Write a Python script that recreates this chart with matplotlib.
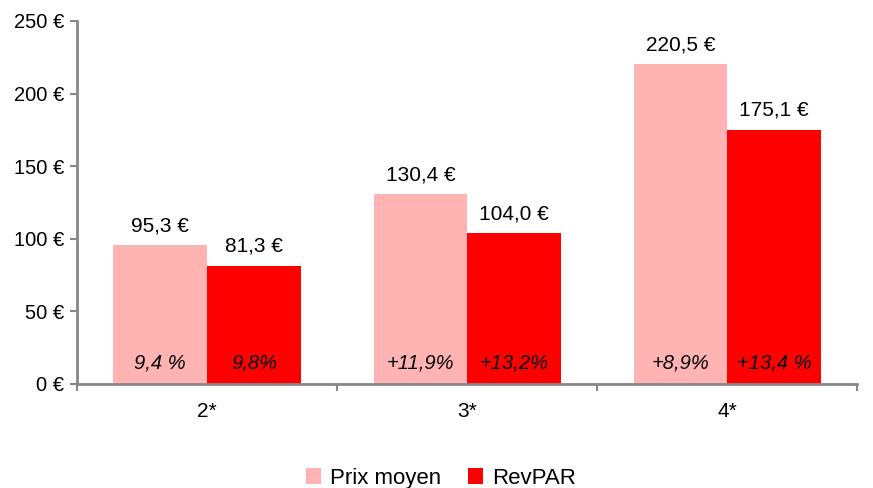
import matplotlib
matplotlib.use("Agg")
import matplotlib.pyplot as plt
import numpy as np

categories = ["2*", "3*", "4*"]
prix_moyen = [95.3, 130.4, 220.5]
revpar = [81.3, 104.0, 175.1]
prix_labels = ["95,3 €", "130,4 €", "220,5 €"]
revpar_labels = ["81,3 €", "104,0 €", "175,1 €"]
prix_pct = ["9,4 %", "+11,9%", "+8,9%"]
revpar_pct = ["9,8%", "+13,2%", "+13,4 %"]
yticks = [0, 50, 100, 150, 200, 250]
ytick_labels = ["0 €", "50 €", "100 €", "150 €", "200 €", "250 €"]

plt.rcParams['font.family'] = ['Liberation Sans', 'DejaVu Sans']

pink = "#FFB3B3"
red = "#FF0000"
grey = "#888888"

fig = plt.figure(figsize=(8.73, 4.88), dpi=100)
ax = fig.add_axes([0.0882, 0.214, 0.894, 0.743])

x = np.arange(len(categories))
w = 0.36
b1 = ax.bar(x - w / 2, prix_moyen, w, color=pink, label="Prix moyen")
b2 = ax.bar(x + w / 2, revpar, w, color=red, label="RevPAR")

for i in range(len(categories)):
    ax.annotate(prix_labels[i], (x[i] - w / 2, prix_moyen[i]), xytext=(0, 7),
                textcoords="offset points", ha="center", va="bottom", fontsize=15)
    ax.annotate(revpar_labels[i], (x[i] + w / 2, revpar[i]), xytext=(0, 7),
                textcoords="offset points", ha="center", va="bottom", fontsize=15)
    ax.text(x[i] - w / 2, 14, prix_pct[i], ha="center", va="center",
            fontsize=14.5, style="italic")
    ax.text(x[i] + w / 2, 14, revpar_pct[i], ha="center", va="center",
            fontsize=14.5, style="italic")

ax.set_xlim(-0.5, 2.5)
ax.set_ylim(0, 250)
ax.set_yticks(yticks)
ax.set_yticklabels(ytick_labels, fontsize=14.5)
ax.set_xticks(x)
ax.set_xticklabels(categories, fontsize=15)
ax.set_xticks([-0.5, 0.5, 1.5, 2.5], minor=True)
ax.tick_params(axis="x", which="major", length=0, pad=13)
ax.tick_params(axis="x", which="minor", length=5, color=grey, width=1.5)
ax.tick_params(axis="y", length=5, color=grey, width=1.5, pad=4)

for s in ["top", "right"]:
    ax.spines[s].set_visible(False)
for s in ["left", "bottom"]:
    ax.spines[s].set_color(grey)
    ax.spines[s].set_linewidth(2)

leg = fig.legend(handles=[b1, b2], loc="center", bbox_to_anchor=(0.505, 0.02),
                 ncol=2, frameon=False, fontsize=16, handlelength=0.7,
                 handleheight=0.7, handletextpad=0.4, columnspacing=1.2)

fig.savefig("out.png", dpi=100)
